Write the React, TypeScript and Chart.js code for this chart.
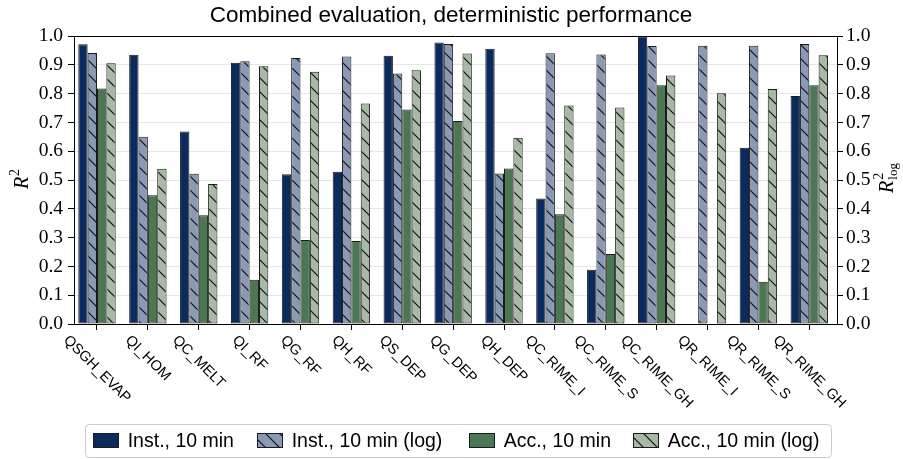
import React, { useEffect, useRef } from "react";
import { Chart, registerables } from "chart.js";
Chart.register(...registerables);

const title = "Combined evaluation, deterministic performance";
const categories = [
  "QSGH_EVAP", "QI_HOM", "QC_MELT", "QI_RF", "QG_RF", "QH_RF", "QS_DEP", "QG_DEP",
  "QH_DEP", "QC_RIME_I", "QC_RIME_S", "QC_RIME_GH", "QR_RIME_I", "QR_RIME_S", "QR_RIME_GH",
];
const instValues = [0.971, 0.935, 0.668, 0.907, 0.52, 0.529, 0.931, 0.977, 0.956, 0.436, 0.188, 0.998, null, 0.612, 0.792];
const instLogValues = [0.941, 0.65, 0.522, 0.912, 0.924, 0.929, 0.87, 0.972, 0.523, 0.94, 0.936, 0.965, 0.966, 0.966, 0.972];
const accValues = [0.818, 0.447, 0.378, 0.154, 0.292, 0.288, 0.745, 0.705, 0.54, 0.381, 0.243, 0.829, null, 0.147, 0.829];
const accLogValues = [0.905, 0.539, 0.486, 0.895, 0.876, 0.766, 0.881, 0.939, 0.647, 0.759, 0.752, 0.863, 0.801, 0.816, 0.933];
const seriesLabels = ["Inst., 10 min", "Inst., 10 min (log)", "Acc., 10 min", "Acc., 10 min (log)"];
const yTicks = [0, 0.1, 0.2, 0.3, 0.4, 0.5, 0.6, 0.7, 0.8, 0.9, 1.0];

const COLORS = ["#0b2b5e", "#8a9ab6", "#4b7752", "#a8baa6"];
const HATCHED = [false, true, false, true];
const EDGE = "#1a1a1a";

function makeHatch(ctx: CanvasRenderingContext2D, bg: string): CanvasPattern | string {
  const s = 14;
  const c = document.createElement("canvas");
  c.width = s;
  c.height = s;
  const g = c.getContext("2d")!;
  g.fillStyle = bg;
  g.fillRect(0, 0, s, s);
  g.strokeStyle = "#111";
  g.lineWidth = 1.2;
  g.beginPath();
  g.moveTo(-2, -2);
  g.lineTo(s + 2, s + 2);
  g.moveTo(s - 2, -2);
  g.lineTo(s + 2, 2);
  g.moveTo(-2, s - 2);
  g.lineTo(2, s + 2);
  g.stroke();
  return ctx.createPattern(c, "repeat") || bg;
}

export default function App() {
  const ref = useRef<HTMLCanvasElement>(null);

  useEffect(() => {
    const canvas = ref.current!;
    const ctx = canvas.getContext("2d")!;
    const fills = COLORS.map((c, i) => (HATCHED[i] ? makeHatch(ctx, c) : c));
    const series = [instValues, instLogValues, accValues, accLogValues];

    const decor = {
      id: "decor",
      afterDraw(chart: any) {
        const c: CanvasRenderingContext2D = chart.ctx;
        const a = chart.chartArea;
        const xs = chart.scales.x;
        c.save();
        // top spine
        c.strokeStyle = "#000";
        c.lineWidth = 1;
        c.beginPath();
        c.moveTo(a.left, Math.round(a.top) + 0.5);
        c.lineTo(a.right, Math.round(a.top) + 0.5);
        c.stroke();

        // title
        c.fillStyle = "#000";
        c.font = '22.5px "Liberation Sans"';
        c.textAlign = "center";
        c.textBaseline = "alphabetic";
        c.fillText(title, 451, 22);

        // x category labels, rotated 45deg clockwise, bbox top below axis
        c.font = '14.5px "Liberation Sans"';
        categories.forEach((lab, i) => {
          const px = xs.getPixelForValue(i);
          const w = c.measureText(lab).width;
          const h = 14;
          const d = (w + h) / (2 * Math.SQRT2);
          c.save();
          c.translate(px, a.bottom + 9 + d);
          c.rotate(Math.PI / 4);
          c.textAlign = "center";
          c.textBaseline = "middle";
          c.fillText(lab, 0, 0);
          c.restore();
        });

        // y axis labels
        const drawR = (cx: number, cy: number, sub: string | null) => {
          c.save();
          c.translate(cx, cy);
          c.rotate(-Math.PI / 2);
          c.textAlign = "left";
          c.textBaseline = "alphabetic";
          c.font = 'italic 20px "Liberation Serif"';
          const rw = c.measureText("R").width;
          c.font = '14px "Liberation Serif"';
          const sw = c.measureText("2").width;
          let subw = 0;
          if (sub) {
            c.font = '13px "Liberation Serif"';
            subw = c.measureText(sub).width;
          }
          const total = rw + 1 + Math.max(sw, subw);
          const x0 = -total / 2;
          c.font = 'italic 20px "Liberation Serif"';
          c.fillText("R", x0, 7);
          c.font = '14px "Liberation Serif"';
          c.fillText("2", x0 + rw + 1, sub ? -3 : -2);
          if (sub) {
            c.font = '13px "Liberation Serif"';
            c.fillText(sub, x0 + rw + 1, 11);
          }
          c.restore();
        };
        drawR(21, 179, null);
        drawR(886, 178, "log");

        // legend
        const lx = 85.5, ly = 424.5, lw = 746, lh = 33;
        c.beginPath();
        (c as any).roundRect(lx, ly, lw, lh, 4);
        c.fillStyle = "rgba(255,255,255,0.9)";
        c.fill();
        c.strokeStyle = "#cccccc";
        c.lineWidth = 1;
        c.stroke();
        const handleX = [93, 257, 469, 633];
        c.font = '19.5px "Liberation Sans"';
        c.textAlign = "left";
        c.textBaseline = "middle";
        seriesLabels.forEach((lab, i) => {
          const hx = handleX[i];
          c.fillStyle = fills[i] as any;
          c.fillRect(hx, 433, 26, 15);
          c.strokeStyle = EDGE;
          c.lineWidth = 1;
          c.strokeRect(hx + 0.5, 433.5, 25, 14);
          c.fillStyle = "#000";
          c.fillText(lab, hx + 34.7, 441.5);
        });
        c.restore();
      },
    };

    const chart = new Chart(canvas, {
      type: "bar",
      data: {
        datasets: series.map((vals, i) => ({
          label: seriesLabels[i],
          data: vals.map((v, j) => ({ x: j, y: v })),
          backgroundColor: fills[i] as any,
          borderColor: EDGE,
          borderWidth: 1,
          borderSkipped: false,
          categoryPercentage: 0.735,
          barPercentage: 1.0,
          yAxisID: "y",
        })),
      },
      options: {
        responsive: false,
        devicePixelRatio: 1,
        animation: false,
        events: [],
        layout: { padding: { top: 36, left: 0, right: 0, bottom: 0 } },
        plugins: {
          legend: { display: false },
          title: { display: false },
          tooltip: { enabled: false },
        },
        scales: {
          x: {
            type: "linear",
            offset: false,
            min: -0.452,
            max: 14.545,
            afterBuildTicks: (s: any) => {
              s.ticks = categories.map((_, i) => ({ value: i }));
            },
            ticks: { display: false },
            grid: { drawOnChartArea: false, drawTicks: true, tickLength: 6, tickColor: "#000", offset: false },
            border: { display: true, color: "#000", width: 1 },
            afterFit: (s: any) => {
              s.height = 135;
            },
          },
          y: {
            position: "left",
            min: 0,
            max: 1,
            afterBuildTicks: (s: any) => {
              s.ticks = yTicks.map((v) => ({ value: v }));
            },
            ticks: {
              color: "#000",
              padding: 5,
              font: { family: '"Liberation Serif"', size: 19.5 },
              callback: (v: any) => Number(v).toFixed(1),
            },
            grid: { color: "#e6e6e6", tickColor: "#000", tickLength: 6, lineWidth: 1 },
            border: { display: true, color: "#000", width: 1 },
            afterFit: (s: any) => {
              s.width = 74;
            },
          },
          y2: {
            position: "right",
            min: 0,
            max: 1,
            afterBuildTicks: (s: any) => {
              s.ticks = yTicks.map((v) => ({ value: v }));
            },
            ticks: {
              color: "#000",
              padding: 3,
              font: { family: '"Liberation Serif"', size: 19.5 },
              callback: (v: any) => Number(v).toFixed(1),
            },
            grid: { drawOnChartArea: false, tickColor: "#000", tickLength: 6 },
            border: { display: true, color: "#000", width: 1 },
            afterFit: (s: any) => {
              s.width = 66;
            },
          },
        },
      } as any,
      plugins: [decor],
    });
    return () => chart.destroy();
  }, []);

  return (
    <div style={{ position: "absolute", left: 0, top: 0, width: 903, height: 459, background: "#fff" }}>
      <canvas ref={ref} width={903} height={459} style={{ width: 903, height: 459, display: "block" }} />
    </div>
  );
}
